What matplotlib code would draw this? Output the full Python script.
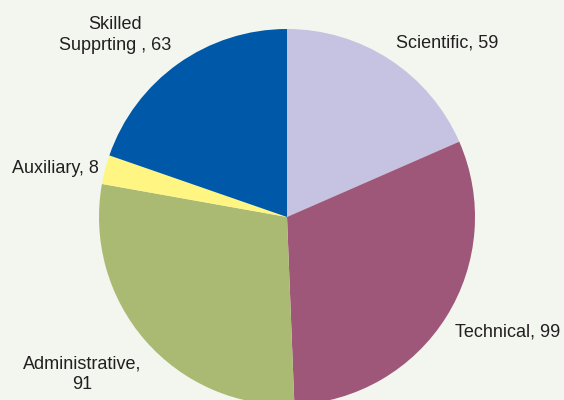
import matplotlib.pyplot as plt

plt.rcParams['font.family'] = ['Liberation Sans', 'DejaVu Sans']

labels = ['Scientific, 59', 'Technical, 99', 'Administrative,\n91',
          'Auxiliary, 8', 'Skilled\nSupprting , 63']
values = [59, 99, 91, 8, 63]
colors = ['#C6C2E1', '#9E5778', '#ABBA72', '#FFF582', '#0058A9']

# label centres in pixel coordinates of the 564x400 picture
label_px = [(447, 43), (508, 332), (82, 374), (55, 169), (115, 35)]

W, H = 564, 400
cx, cy, R = 287, 217, 188

fig = plt.figure(figsize=(W / 100, H / 100), dpi=100)
fig.patch.set_facecolor('#F2F6EF')
ax = fig.add_axes([0, 0, 1, 1])
ax.set_facecolor('#F2F6EF')

ax.pie(values, colors=colors, startangle=90, counterclock=False,
       radius=1, center=(0, 0), wedgeprops={'linewidth': 0})

for lab, (px, py) in zip(labels, label_px):
    ax.text((px - cx) / R, (cy - py) / R, lab, ha='center', va='center',
            fontsize=13, color='#231F20', multialignment='center',
            linespacing=1.3)

ax.set_xlim(-cx / R, (W - cx) / R)
ax.set_ylim(-(H - cy) / R, cy / R)
ax.set_aspect('equal')
ax.axis('off')

fig.savefig('out.png', dpi=100, facecolor=fig.get_facecolor())
